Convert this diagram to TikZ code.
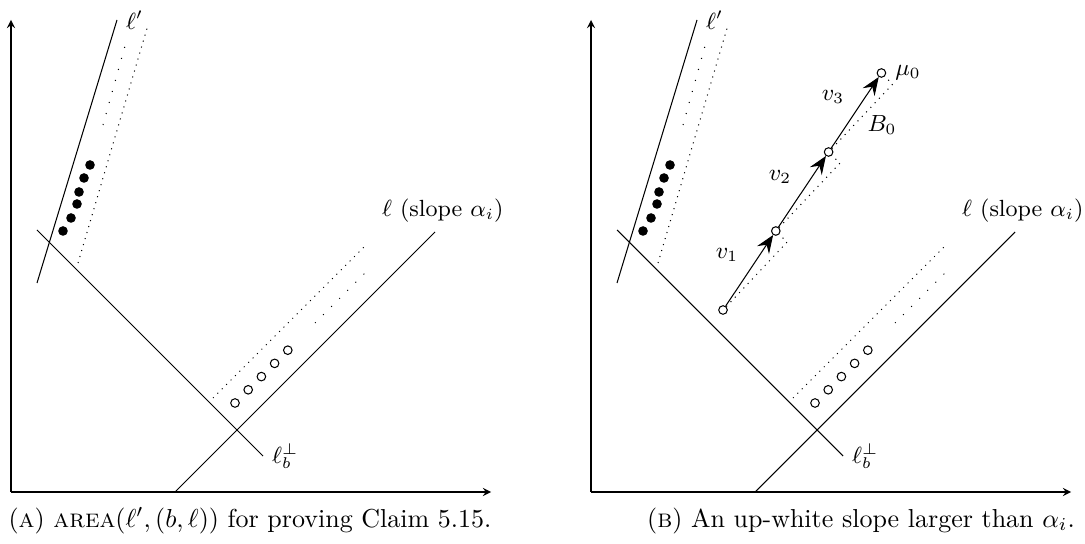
\documentclass[tikz,border=0pt]{standalone}
\usepackage{amsmath}
\usetikzlibrary{arrows.meta}

\tikzset{
  bdot/.style={circle, fill=black, inner sep=0pt, minimum size=3.7pt},
  wdot/.style={circle, draw, fill=white, inner sep=0pt, minimum size=3.3pt},
  vec/.style={-{Stealth[length=7pt,width=5.5pt,inset=2.5pt]}},
  lab/.style={font=\small},
  capt/.style={anchor=base, font=\normalsize},
}

\begin{document}
\begin{tikzpicture}[x=0.541cm, y=0.541cm, >=stealth]
  \useasboundingbox (-0.275,-1.3) rectangle (26.85,12.3);
  % both panels: axes, l', l_b^perp, l and the two rows of points
  \foreach \px/\p in {0/a, 14.5/b}{
    \begin{scope}[shift={(\px,0)}]
      \draw[->] (0,0) -- (12,0);
      \draw[->] (0,0) -- (0,11.8);
      \draw (0.65,5.225) -- (2.65,11.8) node[lab, right] (lp\p) {$\ell'$};
      \draw (0.65,6.55) -- (6.3,0.9) node[lab, right] (lb\p) {$\ell_b^\perp$};
      \draw (4.1,0) -- (10.6,6.5) node[lab, above, xshift=3pt] (l\p) {$\ell$ (slope $\alpha_i$)};
      \draw[dotted] (1.675,5.725) -- (3.425,11.675);
      \draw[loosely dotted] (2.3,9.175) -- (2.85,11.15);
      \draw[dotted] (5.05,2.35) -- (8.9,6.2);
      \draw[loosely dotted] (7.6,4.225) -- (8.85,5.475);
      \foreach \x/\y [count=\k] in {1.3/6.525, 1.5/6.85, 1.65/7.2, 1.7/7.5, 1.825/7.85, 1.975/8.175}
        \node[bdot] (bl\p\k) at (\x,\y) {};
      \foreach \k in {0,...,4}
        \node[wdot] (wh\p\k) at (5.6+0.33*\k, 2.225+0.33*\k) {};
    \end{scope}
  }
  % panel (b): the up-white path
  \begin{scope}[shift={(14.5,0)}]
    \node[wdot] (p0) at (3.3,4.55) {};
    \node[wdot] (p1) at (4.62,6.525) {};
    \node[wdot] (p2) at (5.94,8.5) {};
    \node[wdot] (p3) at (7.26,10.475) {};
    \coordinate (q1) at (4.9,6.245);
    \coordinate (q2) at (6.22,8.22);
    \coordinate (q3) at (7.54,10.195);
    \draw[dotted] (p0) -- (q1) -- (p1);
    \draw[dotted] (p1) -- (q2) -- (p2);
    \draw[dotted] (p2) -- (q3) -- (p3);
    \draw[vec] (p0) -- (p1);
    \draw[vec] (p1) -- (p2);
    \draw[vec] (p2) -- (p3);
    \node[lab] (v1) at (3.4,5.925) {$v_1$};
    \node[lab] (v2) at (4.725,7.875) {$v_2$};
    \node[lab] (v3) at (6.05,9.875) {$v_3$};
    \node[lab, right] (mu0) at (p3.east) {$\mu_0$};
    \node[lab] (b0) at (7.275,9.175) {$B_0$};
  \end{scope}
  % captions
  \node[capt] (capa) at (5.975,-0.875) {(\textsc{a}) \textsc{area}$(\ell',(b,\ell))$ for proving Claim 5.15.};
  \node[capt] (capb) at (21.25,-0.875) {(\textsc{b}) An up-white slope larger than $\alpha_i$.};
\end{tikzpicture}
\end{document}
